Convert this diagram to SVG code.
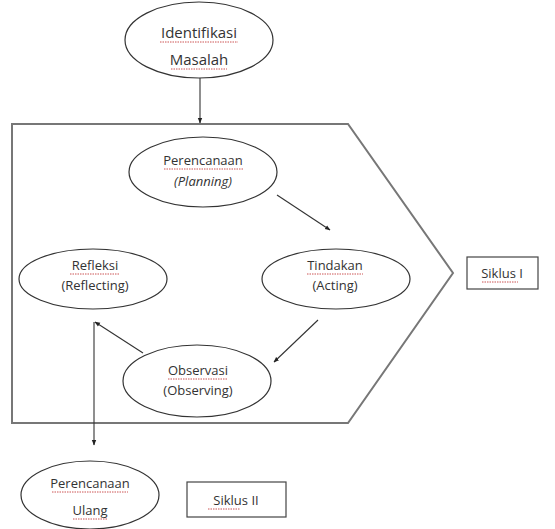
<svg xmlns="http://www.w3.org/2000/svg" width="555" height="529" viewBox="0 0 555 529">
<style>
.el{fill:#fff;stroke:#333;stroke-width:1.2}
.t{font-family:"Open Sans","Liberation Sans",sans-serif;font-size:13px;fill:#333;text-anchor:middle}
.big{font-size:15px}
.i{font-style:italic}
.sq{stroke:#c55;stroke-width:1;stroke-dasharray:1.5 1;fill:none}
.c{stroke:#333;stroke-width:1.1;fill:none}
.box{fill:#fff;stroke:#444;stroke-width:1.2}
</style>
<defs>
<marker id="ah" viewBox="0 0 10 10" refX="9" refY="5" markerWidth="5" markerHeight="5" orient="auto">
<path d="M0,1 L10,5 L0,9 Z" fill="#222"/>
</marker>
</defs>
<rect width="555" height="529" fill="#fff"/>
<g id="frame">
<path d="M12,124 H348 L453,273 L348,423 H12 Z" fill="none" stroke="#777" stroke-width="2"/>
</g>
<g id="connectors">
<line class="c" x1="200" y1="78" x2="200" y2="123" marker-end="url(#ah)"/>
<line class="c" x1="277" y1="195" x2="330" y2="230" marker-end="url(#ah)"/>
<line class="c" x1="318" y1="320" x2="274" y2="362" marker-end="url(#ah)"/>
<line class="c" x1="143" y1="353" x2="95" y2="322" marker-end="url(#ah)"/>
<line class="c" x1="94" y1="322" x2="94" y2="445" marker-end="url(#ah)"/>
</g>
<g id="identifikasi">
<ellipse class="el" cx="199" cy="40" rx="74" ry="38"/>
<text class="t big" x="199" y="38">Identifikasi</text>
<text class="t big" x="199" y="65">Masalah</text>
<line class="sq" x1="160" y1="42" x2="238" y2="42"/>
<line class="sq" x1="171" y1="69" x2="227" y2="69"/>
</g>
<g id="perencanaan">
<ellipse class="el" cx="203" cy="172" rx="74" ry="35"/>
<text class="t" x="203" y="165">Perencanaan</text>
<text class="t i" x="203" y="186">(Planning)</text>
<line class="sq" x1="164" y1="169" x2="243" y2="169"/>
</g>
<g id="tindakan">
<ellipse class="el" cx="336" cy="279" rx="74" ry="30"/>
<text class="t" x="335" y="270">Tindakan</text>
<text class="t" x="335" y="290">(Acting)</text>
<line class="sq" x1="307" y1="274" x2="363" y2="274"/>
</g>
<g id="refleksi">
<ellipse class="el" cx="93" cy="279" rx="74" ry="30"/>
<text class="t" x="95" y="270">Refleksi</text>
<text class="t" x="95" y="290">(Reflecting)</text>
<line class="sq" x1="70" y1="274" x2="119" y2="274"/>
</g>
<g id="observasi">
<ellipse class="el" cx="197" cy="381" rx="74" ry="36"/>
<text class="t" x="198" y="375">Observasi</text>
<text class="t" x="198" y="395">(Observing)</text>
<line class="sq" x1="168" y1="379" x2="228" y2="379"/>
</g>
<g id="siklus1">
<rect class="box" x="467" y="257" width="71" height="32"/>
<text class="t" x="502" y="278">Siklus I</text>
<line class="sq" x1="482" y1="282" x2="518" y2="282"/>
</g>
<g id="perencanaan-ulang">
<ellipse class="el" cx="90" cy="495" rx="69" ry="34"/>
<text class="t" x="90" y="488">Perencanaan</text>
<text class="t" x="90" y="515">Ulang</text>
<line class="sq" x1="52" y1="492" x2="128" y2="492"/>
<line class="sq" x1="73" y1="519" x2="107" y2="519"/>
</g>
<g id="siklus2">
<rect class="box" x="187" y="482" width="99" height="35"/>
<text class="t" x="236" y="505">Siklus II</text>
<line class="sq" x1="208" y1="509" x2="240" y2="509"/>
</g>
</svg>
